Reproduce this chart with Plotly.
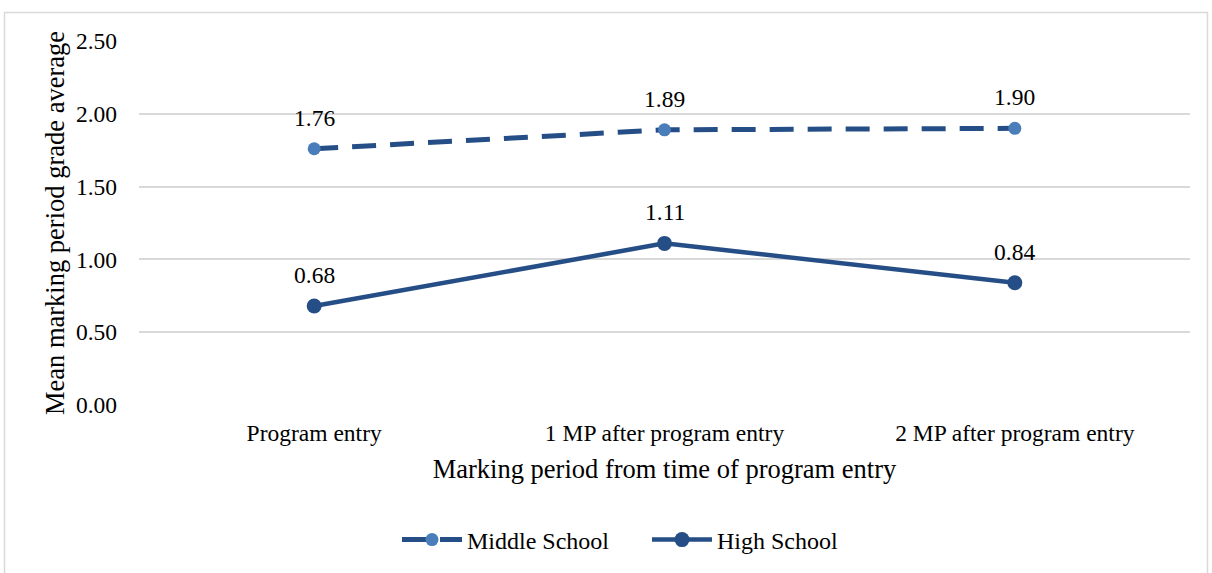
import plotly.graph_objects as go

# Data
periods = ["Program entry", "1 MP after program entry", "2 MP after program entry"]
middle_school = [1.76, 1.89, 1.90]
high_school = [0.68, 1.11, 0.84]
y_ticks = [0.0, 0.5, 1.0, 1.5, 2.0, 2.5]

W, H = 1212, 573
L, R, T, B = 139, 22, 41, 167
FONT = "Liberation Serif"
LINE = "#264E86"
LIGHT = "#4A7EBB"

fig = go.Figure()
fig.add_trace(go.Scatter(
    x=periods, y=middle_school, name="Middle School", mode="lines+markers",
    line=dict(color=LINE, width=5, dash="24px,14px"),
    marker=dict(color=LIGHT, size=13, line=dict(color=LINE, width=0)),
))
fig.add_trace(go.Scatter(
    x=periods, y=high_school, name="High School", mode="lines+markers",
    line=dict(color=LINE, width=4.5),
    marker=dict(color=LINE, size=15),
))

# Value labels above each point
for series in (middle_school, high_school):
    for p, v in zip(periods, series):
        fig.add_annotation(x=p, y=v, text=f"{v:.2f}", showarrow=False,
                           yshift=31, font=dict(family=FONT, size=23.5, color="#000"))

def px_to_paper_x(px):
    return (px - L) / (W - L - R)

def px_to_paper_y(py):
    return (H - B - py) / (H - T - B)

# Outer chart border
fig.add_shape(type="rect", xref="paper", yref="paper",
              x0=px_to_paper_x(4.5), x1=px_to_paper_x(1207.5),
              y0=px_to_paper_y(590), y1=px_to_paper_y(12.5),
              line=dict(color="#D9D9D9", width=1.5), fillcolor="rgba(0,0,0,0)", layer="below")

fig.update_layout(
    width=W, height=H,
    margin=dict(l=L, r=R, t=T, b=B, pad=0),
    paper_bgcolor="white", plot_bgcolor="white",
    font=dict(family=FONT, size=23, color="#000"),
    showlegend=True,
    legend=dict(orientation="h", x=px_to_paper_x(397), xanchor="left",
                y=px_to_paper_y(540), yanchor="middle",
                font=dict(family=FONT, size=24), itemwidth=60, entrywidth=175,
                traceorder="normal"),
    xaxis=dict(
        range=[-0.5, 2.5], showgrid=False, zeroline=False, showline=False,
        ticks="", tickfont=dict(family=FONT, size=23.5), ticklabelstandoff=11,
        title=dict(text="Marking period from time of program entry",
                   font=dict(family=FONT, size=26.5), standoff=14),
    ),
    yaxis=dict(
        range=[0, 2.5], tickvals=y_ticks, ticktext=[f"{v:.2f}" for v in y_ticks],
        showgrid=True, gridcolor="#D9D9D9", gridwidth=1.5, zeroline=False, showline=False,
        ticks="", tickfont=dict(family=FONT, size=23.5), ticklabelstandoff=21,
        title=dict(text="Mean marking period grade average",
                   font=dict(family=FONT, size=26.5), standoff=3),
    ),
)

fig.write_html("out.html")
